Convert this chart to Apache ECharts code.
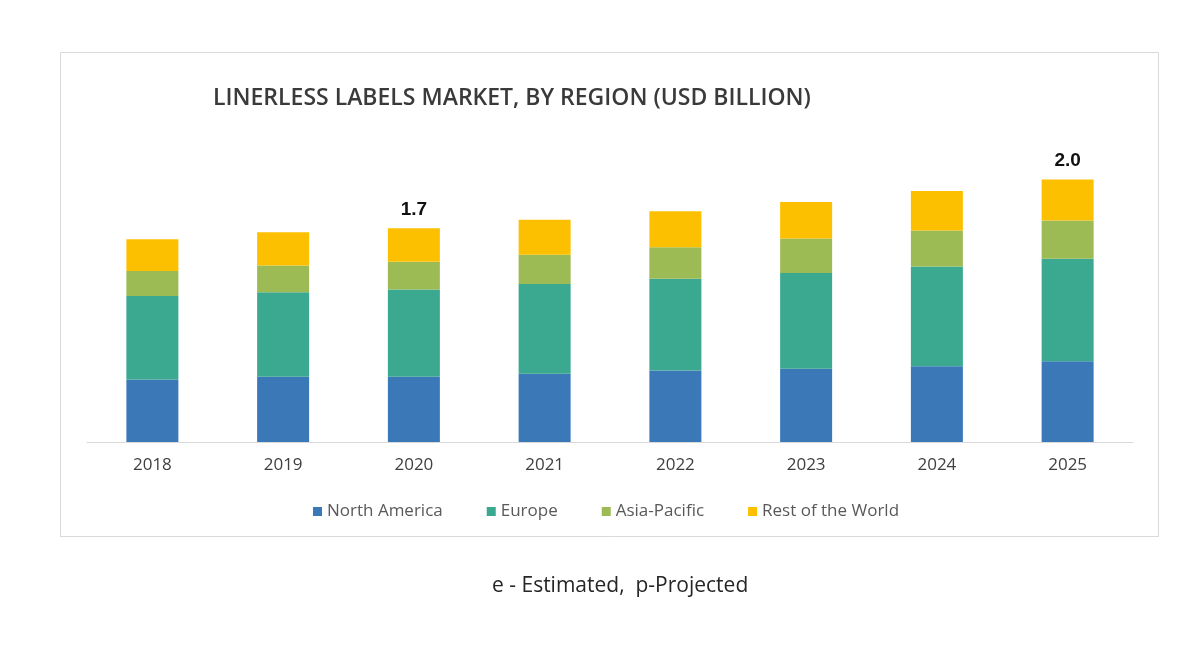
<!DOCTYPE html>
<html>
<head>
<meta charset="utf-8">
<script src="https://cdn.jsdelivr.net/npm/echarts@6/dist/echarts.min.js"></script>
<style>
html,body{margin:0;padding:0;background:#fff;}
#chart{width:1200px;height:650px;}
</style>
</head>
<body>
<div id="chart"></div>
<script>
const years = ['2018', '2019', '2020', '2021', '2022', '2023', '2024', '2025'];
const northAmerica = [0.485, 0.505, 0.505, 0.529, 0.554, 0.567, 0.588, 0.626];
const europe       = [0.646, 0.656, 0.677, 0.695, 0.711, 0.744, 0.773, 0.794];
const asiaPacific  = [0.194, 0.207, 0.215, 0.228, 0.245, 0.266, 0.279, 0.297];
const restOfWorld  = [0.246, 0.258, 0.260, 0.271, 0.279, 0.284, 0.305, 0.318];
const labeledYears = ['2020', '2025'];
const seriesNames = ['North America', 'Europe', 'Asia-Pacific', 'Rest of the World'];
const colors = ['#3a78b8', '#3aa990', '#9dbb55', '#fdc000'];

const totals = years.map((y, i) => northAmerica[i] + europe[i] + asiaPacific[i] + restOfWorld[i]);
const allData = [northAmerica, europe, asiaPacific, restOfWorld];

const chart = echarts.init(document.getElementById('chart'));
const series = allData.map((d, k) => ({
  name: seriesNames[k],
  type: 'bar',
  stack: 'total',
  barWidth: 52,
  data: d,
  itemStyle: { color: colors[k] },
  label: k === 3 ? {
    show: true,
    position: 'top',
    distance: 9,
    color: '#111',
    fontFamily: '"Liberation Sans", Arial, sans-serif',
    fontWeight: 'bold',
    fontSize: 19,
    formatter: p => labeledYears.includes(p.name) ? totals[p.dataIndex].toFixed(1) : ''
  } : { show: false }
}));

chart.setOption({
  animation: false,
  backgroundColor: '#fff',
  graphic: [
    { type: 'rect', shape: { x: 60.5, y: 52.5, width: 1098, height: 484 },
      style: { fill: 'none', stroke: '#d9d9d9', lineWidth: 1 }, z: -10 },
    { type: 'text', left: 492, top: 576,
      style: { text: 'e - Estimated,  p-Projected', fill: '#262626', font: '21px "Open Sans", sans-serif' } }
  ],
  title: {
    text: 'LINERLESS LABELS MARKET, BY REGION (USD BILLION)',
    left: 208, top: 82,
    textStyle: { color: '#3a3a3a', fontSize: 23, fontWeight: 600, fontFamily: '"Open Sans", sans-serif' }
  },
  legend: {
    top: 498, left: 308,
    itemWidth: 9, itemHeight: 9, itemGap: 44,
    icon: 'rect',
    textStyle: { color: '#595959', fontSize: 17, fontFamily: '"Open Sans", sans-serif' },
    data: seriesNames
  },
  grid: { left: 87, right: 67, top: 119.5, bottom: 208, containLabel: false },
  xAxis: {
    type: 'category',
    data: years,
    axisLine: { lineStyle: { color: '#d9d9d9', width: 1 } },
    axisTick: { show: false },
    axisLabel: { color: '#404040', fontSize: 17, margin: 15, fontFamily: '"Open Sans", sans-serif' }
  },
  yAxis: { type: 'value', min: 0, max: 2.5, show: false, splitLine: { show: false } },
  series: series
});
</script>
</body>
</html>
